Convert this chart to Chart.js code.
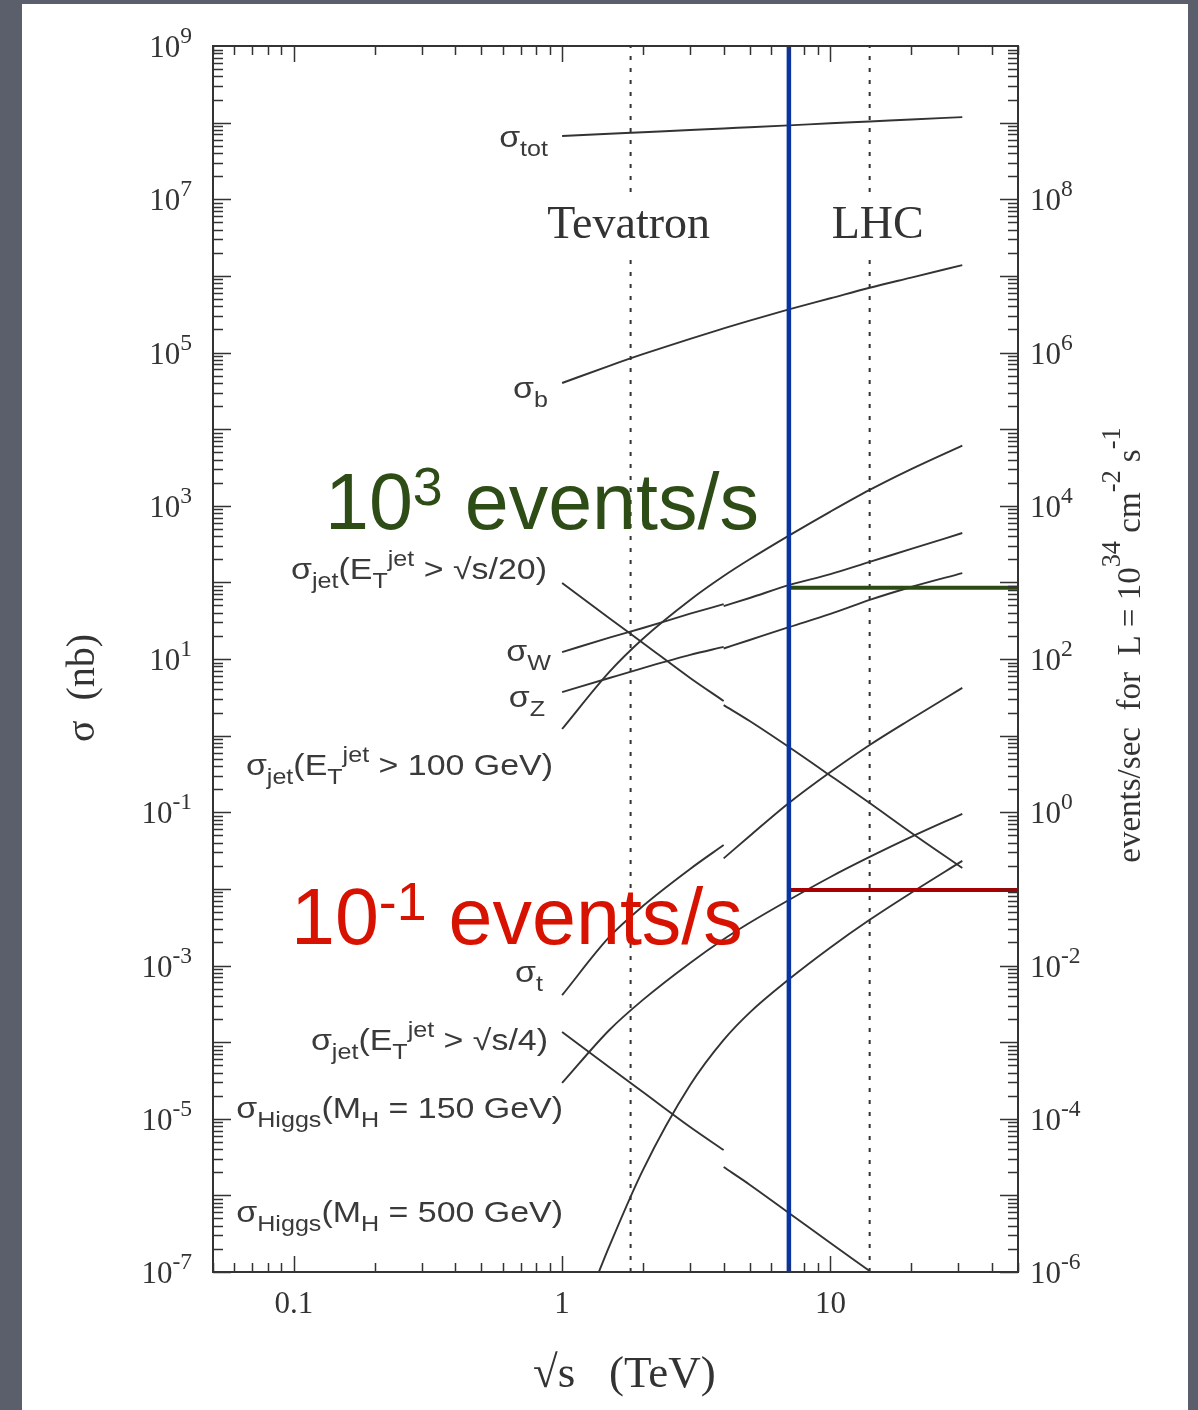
<!DOCTYPE html>
<html>
<head>
<meta charset="utf-8">
<script src="https://cdn.jsdelivr.net/npm/chart.js@4.4.1/dist/chart.umd.min.js"></script>
<style>
html,body{margin:0;padding:0;background:#5a5f6b;overflow:hidden}
canvas{display:block}
</style>
</head>
<body>
<canvas id="xsec" width="1198" height="1410"></canvas>
<script>
// centre-of-mass energy (TeV)
const sqrtS = [1, 1.5, 2, 3, 4, 5, 7, 10, 14, 20, 31];
const sqrtSPpbar = [1, 1.5, 2, 3, 4];
const sqrtSPp = [4, 5, 7, 10, 14, 20, 31];
const sqrtSHiggs500 = [1.37, 1.5, 2, 3, 4, 5, 7, 10, 14, 20, 31];

// cross sections (nb)
const sigmaTot = [6.7e7, 7.15e7, 7.5e7, 8.0e7, 8.4e7, 8.7e7, 9.2e7, 9.8e7, 1.035e8, 1.1e8, 1.18e8];
const sigmaB = [4.0e4, 6.7e4, 9.5e4, 1.51e5, 2.06e5, 2.61e5, 3.65e5, 5.1e5, 7.0e5, 9.5e5, 1.38e6];
const sigmaJet100 = [1.22, 6.8, 18.4, 59, 121, 200, 407, 839, 1610, 3010, 6110];
const sigmaHiggs150 = [2.93e-5, 1.44e-4, 3.56e-4, 1.08e-3, 2.2e-3, 3.61e-3, 7.16e-3, 0.0143, 0.0261, 0.0477, 0.0955];
const sigmaHiggs500 = [1e-7, 2.18e-7, 2.14e-6, 2.75e-5, 1.07e-4, 2.43e-4, 6.6e-4, 1.72e-3, 3.95e-3, 8.9e-3, 0.0232];

// p-pbar branch (below 4 TeV)
const sigmaWPpbar = [12.3, 19, 25.4, 39, 52];
const sigmaZPpbar = [3.7, 5.65, 7.6, 11.3, 14.4];
const sigmaJet20Ppbar = [98, 34, 16.2, 5.65, 2.83];
const sigmaTopPpbar = [4.1e-4, 2.36e-3, 5.97e-3, 0.0182, 0.0374];
const sigmaJet4Ppbar = [1.36e-4, 4.7e-5, 2.23e-5, 7.8e-6, 3.9e-6];

// p-p branch (above 4 TeV)
const sigmaWPp = [49, 62.5, 92, 128, 185, 273, 441];
const sigmaZPp = [13.7, 17.7, 26, 38.7, 59, 87, 132];
const sigmaJet20Pp = [2.5, 1.55, 0.71, 0.30, 0.132, 0.054, 0.0187];
const sigmaTopPp = [0.025, 0.049, 0.132, 0.335, 0.755, 1.65, 4.2];
const sigmaJet4Pp = [2.34e-6, 1.38e-6, 5.9e-7, 2.39e-7, 1.03e-7, null, null];

// markers
const tevatronEnergy = 1.8;
const lhcEnergy = 14;
const lhcRunEnergy = 7;
const sigma1e3PerSec = 85;
const sigma1e_1PerSec = 0.0097;

// axis ticks
const yTickExponents = [9, 7, 5, 3, 1, -1, -3, -5, -7];
const rateTickExponents = [8, 6, 4, 2, 0, -2, -4, -6];
const xTickValues = [0.1, 1, 10];

const SERIF = '"Liberation Serif", "Times New Roman", serif';
const SANS = '"Liberation Sans", Arial, sans-serif';
const INK = '#333';

const pts = (xs, ys) => xs.map((x, i) => ({x: x, y: ys[i]}));
const curve = (xs, ys) => ({
  data: pts(xs, ys), borderColor: INK, borderWidth: 1.9, pointRadius: 0,
  cubicInterpolationMode: 'monotone', fill: false, order: 5
});
const vline = (x, color, width, dash, order) => ({
  data: [{x: x, y: 1e-7}, {x: x, y: 1e9}], borderColor: color, borderWidth: width,
  borderDash: dash, pointRadius: 0, fill: false, order: order
});
const hline = (y, color) => ({
  data: [{x: lhcRunEnergy, y: y}, {x: 50, y: y}], borderColor: color, borderWidth: 4,
  pointRadius: 0, fill: false, order: 2
});

// text with sub/superscripts
function rich(ctx, runs, x, y, o) {
  const size = o.size, fam = o.family, sx = o.sx || 1;
  const parts = runs.map(([t, k]) => {
    const s = k ? size * (o.ratio || 0.72) : size;
    const dy = k === 'sub' ? size * (o.subDy || 0.25) : (k === 'sup' ? -size * (o.supDy || 0.42) : 0);
    ctx.font = s + 'px ' + fam;
    return {t: t, s: s, dy: dy, w: ctx.measureText(t).width};
  });
  const total = parts.reduce((a, p) => a + p.w, 0);
  ctx.save();
  ctx.translate(x, y);
  if (o.rot) ctx.rotate(o.rot);
  ctx.scale(sx, 1);
  let cx = o.align === 'right' ? -total : (o.align === 'center' ? -total / 2 : 0);
  ctx.fillStyle = o.color || INK;
  ctx.textAlign = 'left';
  ctx.textBaseline = 'alphabetic';
  for (const p of parts) {
    ctx.font = p.s + 'px ' + fam;
    ctx.fillText(p.t, cx, p.dy);
    cx += p.w;
  }
  ctx.restore();
}

const labels = [
  {runs: [['σ', ''], ['tot', 'sub']], x: 548, y: 147},
  {runs: [['σ', ''], ['b', 'sub']], x: 548, y: 398},
  {runs: [['σ', ''], ['jet', 'sub'], ['(E', ''], ['T', 'sub'], ['jet', 'sup'], [' > √s/20)', '']], x: 547, y: 579},
  {runs: [['σ', ''], ['W', 'sub']], x: 551, y: 661},
  {runs: [['σ', ''], ['Z', 'sub']], x: 545, y: 707},
  {runs: [['σ', ''], ['jet', 'sub'], ['(E', ''], ['T', 'sub'], ['jet', 'sup'], [' > 100 GeV)', '']], x: 553, y: 775},
  {runs: [['σ', ''], ['t', 'sub']], x: 543, y: 982},
  {runs: [['σ', ''], ['jet', 'sub'], ['(E', ''], ['T', 'sub'], ['jet', 'sup'], [' > √s/4)', '']], x: 548, y: 1050},
  {runs: [['σ', ''], ['Higgs', 'sub'], ['(M', ''], ['H', 'sub'], [' = 150 GeV)', '']], x: 563, y: 1118},
  {runs: [['σ', ''], ['Higgs', 'sub'], ['(M', ''], ['H', 'sub'], [' = 500 GeV)', '']], x: 563, y: 1222}
];

const decor = {
  id: 'decor',
  beforeDraw(chart) {
    const c = chart.ctx;
    c.save();
    c.fillStyle = '#5a5f6b';
    c.fillRect(0, 0, chart.width, chart.height);
    c.fillStyle = '#ffffff';
    c.fillRect(22, 4, 1166, chart.height - 4);
    c.restore();
  },
  afterDatasetsDraw(chart) {
    const c = chart.ctx, xs = chart.scales.x;
    // gaps in the dotted lines behind the collider names
    c.save();
    c.fillStyle = '#ffffff';
    const xt = xs.getPixelForValue(tevatronEnergy), xl = xs.getPixelForValue(lhcEnergy);
    c.fillRect(xt - 4, 198, 8, 60);
    c.fillRect(xl - 4, 198, 8, 60);
    c.restore();
    rich(c, [['Tevatron', '']], xt - 2, 238, {size: 46, family: SERIF, align: 'center'});
    rich(c, [['LHC', '']], xl + 8, 238, {size: 46, family: SERIF, align: 'center'});

    for (const l of labels) {
      rich(c, l.runs, l.x, l.y, {size: 29, family: SANS, align: 'right', sx: 1.17, color: '#3a3a3a', ratio: 0.74, subDy: 0.3, supDy: 0.45});
    }
    rich(c, [['10', ''], ['3', 'sup'], [' events/s', '']], 325, 529,
      {size: 79, family: SANS, color: '#2d4c16', ratio: 0.68, supDy: 0.3});
    rich(c, [['10', ''], ['-1', 'sup'], [' events/s', '']], 291, 944,
      {size: 79, family: SANS, color: '#d81200', ratio: 0.68, supDy: 0.3});
  },
  afterDraw(chart) {
    const c = chart.ctx, a = chart.chartArea;
    const xs = chart.scales.x, ys = chart.scales.y, y2 = chart.scales.y2;
    c.save();
    c.strokeStyle = INK;
    c.lineWidth = 1.5;
    c.beginPath();
    // x ticks, bottom and top, pointing inwards
    for (let e = -2; e <= 1; e++) {
      for (let m = 1; m <= 9; m++) {
        const v = m * Math.pow(10, e);
        if (v < 0.05 || v > 50) continue;
        const px = Math.round(xs.getPixelForValue(v)) + 0.5;
        const len = m === 1 ? 16 : 9;
        c.moveTo(px, a.bottom); c.lineTo(px, a.bottom - len);
        c.moveTo(px, a.top); c.lineTo(px, a.top + len);
      }
    }
    // y ticks, left and right
    for (let e = -7; e <= 8; e++) {
      for (let m = 1; m <= 9; m++) {
        const v = m * Math.pow(10, e);
        const py = Math.round(ys.getPixelForValue(v)) + 0.5;
        const len = m === 1 ? 18 : 10;
        c.moveTo(a.left, py); c.lineTo(a.left + len, py);
        c.moveTo(a.right, py); c.lineTo(a.right - len, py);
      }
    }
    c.stroke();
    c.lineWidth = 2;
    c.strokeRect(a.left, a.top, a.right - a.left, a.bottom - a.top);
    c.restore();

    const tick = {size: 31, family: SERIF, ratio: 0.76, supDy: 0.45};
    for (const e of yTickExponents) {
      const py = ys.getPixelForValue(Math.pow(10, e));
      rich(c, [['10', ''], [String(e), 'sup']], 192, py + 11, Object.assign({align: 'right'}, tick));
    }
    for (const e of rateTickExponents) {
      const py = y2.getPixelForValue(Math.pow(10, e));
      rich(c, [['10', ''], [String(e), 'sup']], 1030, py + 11, Object.assign({align: 'left'}, tick));
    }
    for (const v of xTickValues) {
      rich(c, [[String(v), '']], xs.getPixelForValue(v), 1313, {size: 31, family: SERIF, align: 'center'});
    }

    // axis titles
    rich(c, [['σ  (nb)', '']], 94, 688, {size: 40, family: SERIF, align: 'center', rot: -Math.PI / 2});
    rich(c, [['√s   (TeV)', '']], 533, 1387, {size: 45, family: SERIF, align: 'left'});
    rich(c, [['events/sec  for  L = 10', ''], ['34', 'sup'], [' cm', ''], ['-2', 'sup'], [' s', ''], ['-1', 'sup']],
      1140, 645, {size: 33, family: SERIF, align: 'center', rot: -Math.PI / 2, ratio: 0.8, supDy: 0.6});
  }
};

new Chart(document.getElementById('xsec'), {
  type: 'line',
  data: {
    datasets: [
      vline(lhcRunEnergy, '#0b34a3', 4.5, [], 1),
      hline(sigma1e3PerSec, '#2b4a14'),
      hline(sigma1e_1PerSec, '#a80000'),
      vline(tevatronEnergy, INK, 2, [4, 8], 6),
      vline(lhcEnergy, INK, 2, [4, 8], 6),
      curve(sqrtS, sigmaTot),
      curve(sqrtS, sigmaB),
      curve(sqrtS, sigmaJet100),
      curve(sqrtS, sigmaHiggs150),
      curve(sqrtSHiggs500, sigmaHiggs500),
      curve(sqrtSPpbar, sigmaWPpbar),
      curve(sqrtSPp, sigmaWPp),
      curve(sqrtSPpbar, sigmaZPpbar),
      curve(sqrtSPp, sigmaZPp),
      curve(sqrtSPpbar, sigmaJet20Ppbar),
      curve(sqrtSPp, sigmaJet20Pp),
      curve(sqrtSPpbar, sigmaTopPpbar),
      curve(sqrtSPp, sigmaTopPp),
      curve(sqrtSPpbar, sigmaJet4Ppbar),
      curve(sqrtSPp, sigmaJet4Pp)
    ]
  },
  options: {
    responsive: false,
    animation: false,
    events: [],
    layout: {padding: {left: 213, top: 46, right: 180, bottom: 138}},
    plugins: {legend: {display: false}, tooltip: {enabled: false}},
    scales: {
      x: {type: 'logarithmic', min: 0.05, max: 50, display: false},
      y: {type: 'logarithmic', min: 1e-7, max: 1e9, display: false},
      y2: {type: 'logarithmic', position: 'right', min: 1e-6, max: 1e10, display: false}
    }
  },
  plugins: [decor]
});
</script>
</body>
</html>
